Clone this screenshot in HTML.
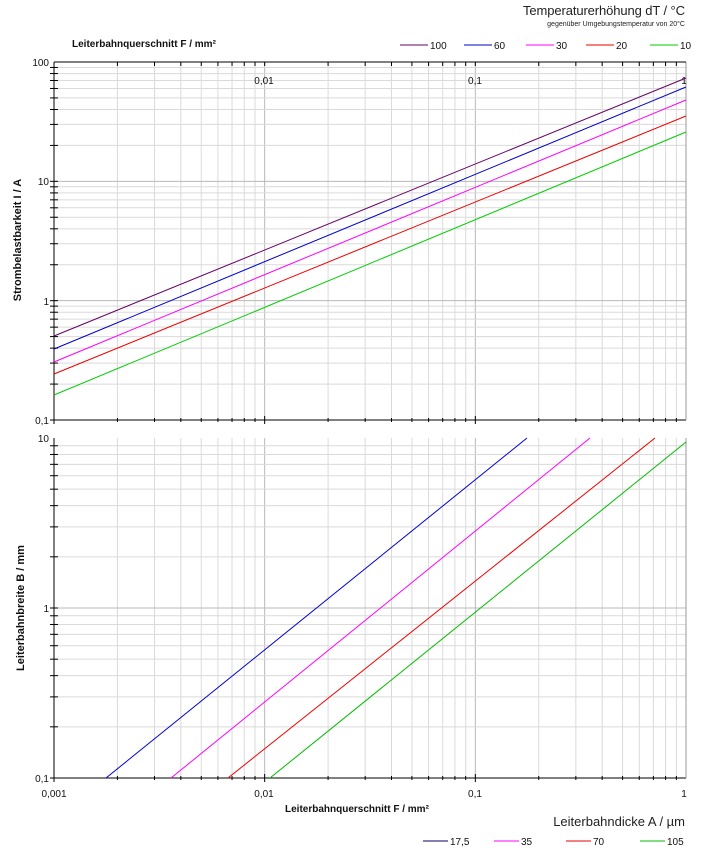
<!DOCTYPE html>
<html><head><meta charset="utf-8"><style>
body{margin:0;background:#fff;width:710px;height:853px;overflow:hidden;font-family:"Liberation Sans",sans-serif}
svg text{font-family:"Liberation Sans",sans-serif}
</style></head><body>
<svg id="s" width="710" height="853" xmlns="http://www.w3.org/2000/svg">
<rect width="710" height="853" fill="#fff"/>
<g id="g"></g>
<text x="685" y="15" font-size="13" text-anchor="end" fill="#222" textLength="162">Temperaturerhöhung dT / °C</text>
<text x="685" y="26" font-size="7" text-anchor="end" fill="#222">gegenüber Umgebungstemperatur von 20°C</text>
<text x="72" y="47" font-size="10" font-weight="bold" fill="#111">Leiterbahnquerschnitt F / mm²</text>
<text x="285" y="812" font-size="10" font-weight="bold" fill="#111">Leiterbahnquerschnitt F / mm²</text>
<text x="685" y="826" font-size="13" text-anchor="end" fill="#222">Leiterbahndicke A / µm</text>
<text transform="translate(21,240) rotate(-90)" font-size="11" font-weight="bold" text-anchor="middle" fill="#111">Strombelastbarkeit I / A</text>
<text transform="translate(24,608) rotate(-90)" font-size="11" font-weight="bold" text-anchor="middle" fill="#111">Leiterbahnbreite B / mm</text>
</svg>
<script>
(function(){
var g=document.getElementById('g'),h='';
var L=54,R=686,dx=(R-L)/3;
function X(f){return L+(Math.log10(f)+3)*dx}
function ln(x1,y1,x2,y2,c,w){h+='<line x1="'+x1+'" y1="'+y1+'" x2="'+x2+'" y2="'+y2+'" stroke="'+c+'" stroke-width="'+(w||1)+'"/>'}
function tx(x,y,t,a,s){h+='<text x="'+x+'" y="'+y+'" font-size="'+(s||10)+'" text-anchor="'+(a||'middle')+'" fill="#111">'+t+'</text>'}
function panel(T,B,dec){
 var dy=(B-T)/dec,d,k,x,y;
 for(d=0;d<3;d++)for(k=1;k<10;k++){x=X(Math.pow(10,d-3)*k);ln(x,T,x,B,k==1?'#b8b8b8':'#dadada');}
 for(d=0;d<dec;d++)for(k=1;k<10;k++){y=B-(d+Math.log10(k))*dy;ln(L,y,R,y,k==1?'#b8b8b8':'#dadada');ln(L-4,y,L+4,y,'#000');}
 ln(L,T,L,B,'#000');ln(L,B,R,B,'#000');
 for(d=0;d<3;d++)for(k=1;k<10;k++){x=X(Math.pow(10,d-3)*k);ln(x,B-(k==1?4:2),x,B+(k==1?4:2),'#000');}
 ln(R,T,R,B,'#999');
}
panel(62,420,3);panel(438,778,2);
ln(L,62,R,62,'#000');
for(var d=0;d<3;d++)for(var k=1;k<10;k++){var x=X(Math.pow(10,d-3)*k);ln(x,62,x,66,'#000');}
tx(49,66,'100','end');tx(49,185,'10','end');tx(49,305,'1','end');tx(49,424,'0,1','end');
tx(49,442,'10','end');tx(49,612,'1','end');tx(49,782,'0,1','end');
tx(264,84,'0,01');tx(475,84,'0,1');tx(684,84,'1');
tx(54,797,'0,001');tx(264,797,'0,01');tx(475,797,'0,1');tx(684,797,'1');
var ser1=[['#660066',336,78],['#0000cc',349,87],['#ff00ff',362,100],['#ee0000',374,116],['#00cc00',395,132]];
ser1.forEach(function(s){ln(L,s[1],R,s[2],s[0]);});
var ser2=[['#0000cc',106,527],['#ff00ff',171,590],['#ee0000',228,655],['#00bb00',270,691]];
ser2.forEach(function(s){var x2=s[2],y2=438;if(x2>R){y2=778-(R-s[1])*(340/(x2-s[1]));x2=R;}ln(s[1],778,x2,y2,s[0]);});
var lg=[['#660066',400,'100'],['#0000cc',464,'60'],['#ff00ff',526,'30'],['#ee0000',586,'20'],['#00cc00',650,'10']];
lg.forEach(function(s){ln(s[1],45,s[1]+28,45,s[0]);tx(s[1]+30,49,s[2],'start');});
var lb=[['#000066',423,'17,5'],['#ff00ff',494,'35'],['#ee0000',566,'70'],['#00bb00',640,'105']];
lb.forEach(function(s){ln(s[1],841,s[1]+25,841,s[0]);tx(s[1]+27,845,s[2],'start');});
g.innerHTML=h;
})();
</script>
</body></html>
